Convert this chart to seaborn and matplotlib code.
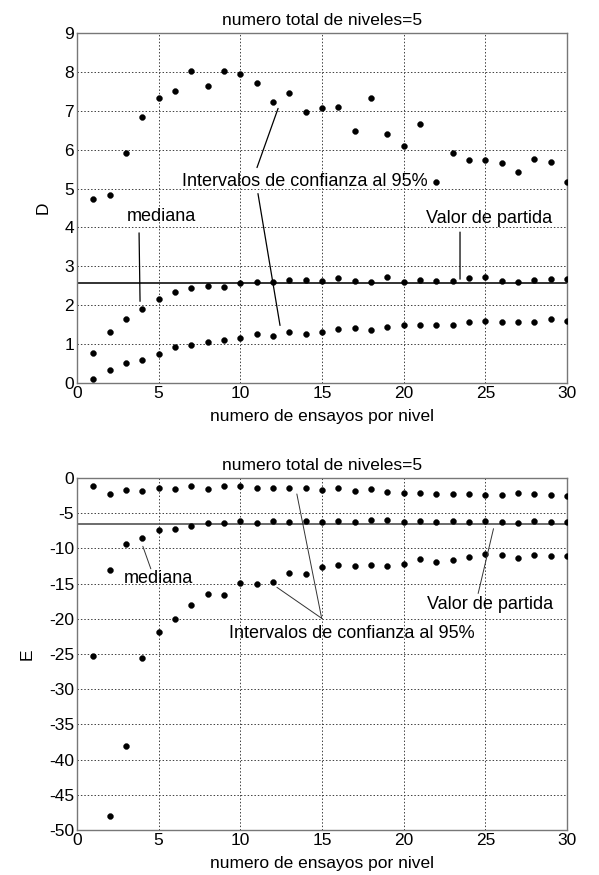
import numpy as np
import pandas as pd
import matplotlib
matplotlib.use("Agg")
import matplotlib.pyplot as plt
import seaborn as sns

# ---------------- data ----------------
ensayos = list(range(1, 31))

D_sup = [4.72, 4.83, 5.91, 6.85, 7.33, 7.51, 8.02, 7.64, 8.03, 7.95,
         7.71, 7.22, 7.45, 6.98, 7.08, 7.09, 6.47, 7.33, 6.40, 6.09,
         6.65, 5.16, 5.91, 5.73, 5.73, 5.67, 5.42, 5.75, 5.69, 5.16]
D_med = [0.77, 1.32, 1.65, 1.90, 2.15, 2.35, 2.44, 2.50, 2.46, 2.57,
         2.60, 2.60, 2.64, 2.65, 2.63, 2.70, 2.63, 2.60, 2.72, 2.60,
         2.64, 2.63, 2.63, 2.71, 2.72, 2.63, 2.60, 2.65, 2.67, 2.68]
D_inf = [0.10, 0.33, 0.52, 0.60, 0.75, 0.93, 0.99, 1.06, 1.10, 1.15,
         1.26, 1.21, 1.30, 1.26, 1.31, 1.38, 1.42, 1.36, 1.45, 1.49,
         1.49, 1.49, 1.50, 1.56, 1.59, 1.57, 1.57, 1.57, 1.64, 1.59]
D_partida = 2.57

E_sup = [-1.19, -2.24, -1.76, -1.86, -1.48, -1.57, -1.14, -1.57, -1.10, -1.10,
         -1.48, -1.38, -1.48, -1.48, -1.67, -1.38, -1.86, -1.57, -1.95, -2.14,
         -2.14, -2.33, -2.33, -2.33, -2.43, -2.43, -2.14, -2.24, -2.43, -2.62]
E_med = [-25.3, -13.10, -9.38, -8.52, -7.43, -7.29, -6.76, -6.38, -6.38, -6.14,
         -6.38, -6.14, -6.24, -6.14, -6.29, -6.14, -6.24, -6.00, -6.00, -6.29,
         -6.14, -6.24, -6.14, -6.29, -6.05, -6.29, -6.38, -6.10, -6.24, -6.24]
E_inf = [np.nan, -48.0, -38.0, -25.6, -21.9, -20.0, -18.1, -16.52, -16.67, -14.90,
         -15.10, -14.81, -13.52, -13.67, -12.67, -12.33, -12.57, -12.33, -12.57, -12.19,
         -11.57, -11.90, -11.62, -11.29, -10.81, -11.00, -11.33, -10.90, -11.14, -11.14]
E_partida = -6.5

titulo = "numero total de niveles=5"
xlabel = "numero de ensayos por nivel"

# ---------------- style ----------------
sns.set_theme(style="white")
plt.rcParams["font.family"] = ["Liberation Sans", "DejaVu Sans"]
plt.rcParams["font.size"] = 12.5
plt.rcParams["text.color"] = "black"
plt.rcParams["axes.labelcolor"] = "black"
plt.rcParams["axes.unicode_minus"] = False

fig = plt.figure(figsize=(5.99, 8.75), dpi=100)
W, H = 599, 875
ax1 = fig.add_axes([77 / W, 1 - 383 / H, (567 - 77) / W, (383 - 33) / H])
ax2 = fig.add_axes([77 / W, 1 - 830 / H, (567 - 77) / W, (830 - 478) / H])

FS = 12.5
FA = 13


def style_ax(ax, ylim, yticks, ylabel):
    ax.set_xlim(0, 30)
    ax.set_ylim(*ylim)
    ax.set_xticks([0, 5, 10, 15, 20, 25, 30])
    ax.set_yticks(yticks)
    ax.grid(True, linestyle=(0, (1.5, 2.0)), color="#404040", linewidth=0.7)
    for s in ax.spines.values():
        s.set_color("#777777")
        s.set_linewidth(1.0)
    ax.tick_params(axis="both", labelsize=FS, labelcolor="black", length=3,
                   direction="in", pad=2, color="#777777")
    ax.set_title(titulo, fontsize=FS, pad=6, color="black")
    ax.set_xlabel(xlabel, fontsize=FS, labelpad=6, color="black")
    ax.set_ylabel(ylabel, fontsize=FS, labelpad=10, color="black")


def dots(ax, y):
    df = pd.DataFrame({"x": ensayos, "y": y})
    sns.scatterplot(data=df, x="x", y="y", ax=ax, color="black", s=18,
                    edgecolor="black", linewidth=0.3, zorder=3, legend=False)


# ---------------- top: D ----------------
for ser in (D_sup, D_med, D_inf):
    dots(ax1, ser)
ax1.axhline(D_partida, color="#222222", linewidth=1.3, zorder=2)
style_ax(ax1, (0, 9), list(range(0, 10)), "D")

line_kw = dict(arrowprops=dict(arrowstyle="-", color="black", lw=0.9,
                               shrinkA=0, shrinkB=0))
ax1.text(13.96, 5.18, "Intervalos de confianza al 95%", ha="center", va="center",
         fontsize=FA, zorder=4)
ax1.annotate("", xy=(12.31, 7.06), xytext=(11.02, 5.54), **line_kw)
ax1.annotate("", xy=(12.43, 1.48), xytext=(11.08, 4.87), **line_kw)
ax1.text(5.14, 4.27, "mediana", ha="center", va="center", fontsize=FA)
ax1.annotate("", xy=(3.86, 2.10), xytext=(3.80, 3.86), **line_kw)
ax1.text(25.2, 4.22, "Valor de partida", ha="center", va="center", fontsize=FA)
ax1.annotate("", xy=(23.45, 2.67), xytext=(23.45, 3.88), **line_kw)

# ---------------- bottom: E ----------------
for ser in (E_sup, E_med, E_inf):
    dots(ax2, ser)
ax2.axhline(E_partida, color="#444444", linewidth=1.1, zorder=2)
style_ax(ax2, (-50, 0), list(range(-50, 1, 5)), "E")

thin_kw = dict(arrowprops=dict(arrowstyle="-", color="#333333", lw=0.7,
                               shrinkA=0, shrinkB=0))
ax2.text(16.8, -22.1, "Intervalos de confianza al 95%", ha="center", va="center",
         fontsize=FA)
ax2.annotate("", xy=(12.24, -15.53), xytext=(14.98, -19.93), **thin_kw)
ax2.annotate("", xy=(13.46, -2.27), xytext=(14.98, -19.93), **thin_kw)
ax2.text(5.0, -14.3, "mediana", ha="center", va="center", fontsize=FA)
ax2.annotate("", xy=(4.03, -9.7), xytext=(4.52, -12.9), **thin_kw)
ax2.text(25.3, -17.9, "Valor de partida", ha="center", va="center", fontsize=FA)
ax2.annotate("", xy=(25.5, -7.2), xytext=(24.56, -16.4), **thin_kw)

fig.savefig("out.png", dpi=100, facecolor="white")
